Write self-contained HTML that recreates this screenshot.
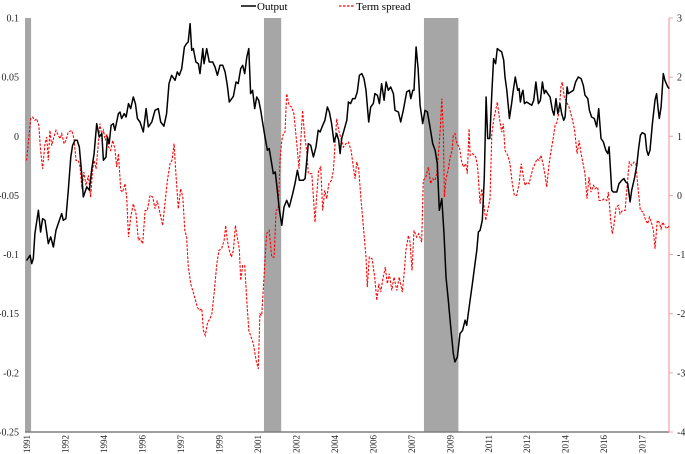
<!DOCTYPE html>
<html><head><meta charset="utf-8"><style>
html,body{margin:0;padding:0;background:#fff;}
svg{display:block;font-family:"Liberation Serif",serif;}
</style></head><body>
<svg id="chart" width="685" height="454" viewBox="0 0 685 454" xmlns="http://www.w3.org/2000/svg"></svg>
<script>
// month index: 0 = Jan 1991
const xTickMonths = [1,20,39,58,77,96,115,134,153,172,191,210,229,248,267,286,305];
const xTickLabels = ["1991","1992","1994","1996","1997","1999","2001","2002","2004","2006","2007","2009","2011","2012","2014","2016","2017"];
const leftTicks = [0.1,0.05,0,-0.05,-0.1,-0.15,-0.2,-0.25];
const leftTickLabels = ["0.1","0.05","0","-0.05","-0.1","-0.15","-0.2","-0.25"];
const rightTicks = [3,2,1,0,-1,-2,-3,-4];
const recessionStarts = [0,118,197];
const recessionEnds = [3,126.5,214];

const outMonths = [0.8,2.5,3.3,4.1,4.9,6.6,7.7,8.7,9.9,11.5,12.7,14,15.3,17,18.1,18.9,20.2,21.4,22.6,23.5,24.7,25.8,26.8,28,28.8,30.5,31.8,32.9,34.1,35.4,36.7,37.9,38.7,40,40.7,41.6,42.5,43.6,44.4,46.1,46.9,47.7,49,49.9,51.1,52.2,53.5,54.5,55.5,56.8,58.4,59.8,60.9,62.6,64.2,65.8,67,68.6,69.9,71.1,72.4,74.1,75.2,76.2,77.4,78.7,79.8,80.6,81.5,82.3,83.1,84.4,85.6,86.4,87.8,88.4,89.7,91,92.7,93.8,95,96.3,97.6,98.8,99.9,100.9,102.1,102.9,104.2,105.3,106.5,107.5,108.5,109.5,110.5,111.4,112.4,113.4,114.4,115.4,116.4,117.4,118.5,119.7,120.6,121.8,122.6,123.6,124.6,125.6,126.8,127.9,129.2,130.5,132.2,133.3,134.5,135.5,137.4,138.3,139.9,141.1,142.4,143.7,144.8,145.7,147,148.1,149.3,150.3,151.4,152.6,153.9,154.9,155.6,156.4,157.5,158.9,159.7,160.8,161.8,163,164.1,165.1,166.3,167.4,168.4,169.7,170.7,172,172.8,174,175,176.1,177.3,178.3,179.4,180.6,181.9,182.7,184.4,185.5,186.8,188.5,189.8,190.5,191.5,192.1,193.1,194.1,195.1,196.4,197.5,198.7,200,201.3,202.5,203.6,204.6,205.8,206.9,207.9,209,210.2,211.5,212.3,213.5,214.8,216.1,217.3,218.1,219.8,220.9,222.2,223.1,223.9,224.7,225.8,226.8,227.7,228.5,229.5,230.5,231.4,232.4,233.2,234.2,235.4,236.4,237,237.9,238.7,239.2,240.3,241.1,242.1,243.3,244,244.6,245.3,245.9,246.6,247.7,248.9,250.2,251.2,252.3,253.5,254.5,255.5,256.4,257.1,258.1,259.3,260.4,261.2,262.2,263.1,264.2,265,266,266.7,267.7,268.3,269.6,270.8,271.9,273.2,274.6,275.7,276.5,277.9,278.7,279.8,281.1,282.3,283.3,284.4,285.6,286.8,287.8,288.4,289.7,290.5,292.2,293.3,294.7,295.8,296.6,297.6,298.8,299.6,300.9,302.1,302.9,303.9,304.8,306.2,307,307.8,308.6,309.8,311.1,311.9,312.7,313.2,314.1,315.2,316,317.4,318.2];
const outValues = [-0.105,-0.1006,-0.1076,-0.1034,-0.0823,-0.0626,-0.0809,-0.0696,-0.071,-0.0907,-0.0851,-0.0936,-0.0795,-0.071,-0.0654,-0.071,-0.0696,-0.0456,-0.0175,-0.0076,-0.0034,-0.0034,-0.009,-0.0316,-0.0513,-0.0428,-0.0456,-0.0287,-0.0146,0.0107,-0.0006,0.0023,-0.0203,-0.0175,-0.0006,-0.0062,0.0093,0.0107,0.0051,0.0192,0.0205,0.015,0.0192,0.0163,0.0276,0.0234,0.0332,0.0276,0.015,0.0121,0.0036,0.0234,0.0079,0.0121,0.022,0.0234,0.0121,0.0085,0.0192,0.0445,0.0516,0.0473,0.0544,0.0516,0.0572,0.0755,0.0784,0.0797,0.0953,0.0727,0.0741,0.0628,0.0614,0.053,0.0741,0.0614,0.0741,0.0628,0.0628,0.0586,0.0516,0.06,0.06,0.0544,0.0431,0.029,0.0319,0.0338,0.0459,0.0445,0.0572,0.06,0.053,0.067,0.0741,0.0361,0.0389,0.0234,0.0332,0.0304,0.022,0.0107,-0.0006,-0.0118,-0.0104,-0.0231,-0.0316,-0.0302,-0.0456,-0.0626,-0.0752,-0.0598,-0.0541,-0.0598,-0.0485,-0.04,-0.0287,-0.0372,-0.0372,-0.0358,-0.0062,-0.0076,-0.0175,-0.009,0.0051,0.0036,0.0093,0.0135,0.0248,0.0205,0.0107,-0.0048,0.0023,-0.0034,-0.0146,-0.0019,0.0051,0.0135,0.029,0.0276,0.0319,0.0319,0.0375,0.0516,0.053,0.0488,0.0389,0.0121,0.0248,0.0276,0.0361,0.0347,0.0276,0.0445,0.0304,0.0459,0.0389,0.0417,0.0361,0.022,0.0205,0.0121,0.022,0.0375,0.0389,0.0319,0.0389,0.0389,0.0755,0.0572,0.0262,0.0107,0.022,0.0205,0.0079,-0.0062,-0.0118,-0.0231,-0.0626,-0.0527,-0.0823,-0.1189,-0.1386,-0.1611,-0.1837,-0.1907,-0.1866,-0.1668,-0.164,-0.1555,-0.1598,-0.1386,-0.1245,-0.1076,-0.0964,-0.0809,-0.0795,-0.071,-0.0344,0.0332,-0.0019,-0.0019,0.0361,0.0657,0.0614,0.0741,0.0727,0.0713,0.0642,0.0501,0.0389,0.0248,0.015,0.0276,0.0389,0.0501,0.0389,0.0403,0.029,0.0361,0.0389,0.0276,0.029,0.0276,0.0262,0.0304,0.0459,0.0276,0.0304,0.0459,0.0361,0.0389,0.0361,0.0332,0.022,0.0178,0.0319,0.0192,0.0276,0.0192,0.0135,0.0163,0.0417,0.0361,0.0375,0.0389,0.0459,0.0501,0.0488,0.0431,0.0347,0.0319,0.022,0.0163,0.015,0.0079,0.0234,-0.0019,-0.0048,-0.0118,-0.0146,-0.009,-0.0456,-0.0471,-0.0471,-0.04,-0.0372,-0.0358,-0.0386,-0.04,-0.0555,-0.0456,-0.0358,-0.0245,-0.0118,0.0008,0.0031,0.0017,-0.0118,-0.0161,-0.0118,0.0107,0.0304,0.0361,0.022,0.015,0.0248,0.053,0.0473,0.0417,0.0403];

const spreadMonths = [0.8,1.6,2.8,3.8,4.9,5.8,6.8,7.7,8.7,9.9,10.7,11.5,12.3,13.2,14,15.3,16.5,17.3,18.1,19.3,20.2,21.4,23.1,24.2,25.2,26.3,27.2,28.1,29.1,30.1,31.3,32.4,33.4,34.1,35.1,36.2,37,37.9,38.7,39.7,40.3,41.3,42.3,43.3,44.4,45.3,46.1,47.3,48.2,49.4,50.2,51.1,52.2,53.5,54.8,56,56.8,58.1,59.3,60.4,61.7,63.1,64.2,65.3,66.7,68,69.1,70.3,71.6,72.6,73.6,74.6,75.7,76.9,77.9,78.9,79.8,80.6,81.8,82.8,84,85.1,86.1,87.3,88.1,89,90.2,91.4,92.3,93.5,94.7,95.8,97.1,98.3,99.1,99.9,100.9,101.9,102.9,103.9,104.8,105.8,106.5,107.5,108.5,109.5,110.5,112.8,114.1,115.2,116,116.9,118,119.3,120.6,121.8,123,124,125.1,125.9,126.8,127.6,128.4,129.2,130.4,131.7,132.8,134.2,135.3,136.3,137.1,138.1,139.1,139.9,141.6,142.4,143.2,144,145,146,147,148,149,150,151.3,152.3,153.1,153.9,154.9,155.9,157.2,158.5,159.7,161,162.1,163,163.8,164.8,165.8,167.1,168.4,169,170,171.4,172.7,173.7,174.7,175.7,176.6,177.9,178.9,179.9,181.1,182.2,183.6,184.8,186.3,187.2,188.1,189.3,190.1,191.1,192.1,193.4,194.4,195.9,196.7,197.9,199.2,200.3,201.3,202.5,203.3,204.3,205,205.8,206.6,207.1,207.9,208.9,209.9,210.9,211.5,212.3,213.2,214.5,215.5,216.5,217.6,218.4,219.3,219.8,220.9,221.9,222.6,223.5,224.7,225.5,226.3,227.5,228.5,229.6,230.5,231.4,232.4,233.2,234.2,235.4,236.2,237,238.4,239.5,240.6,241.6,242.8,244,245,246.1,246.9,248,248.9,249.9,251,251.9,252.8,253.8,254.8,255.8,256.8,257.6,258.8,259.8,260.9,261.7,262.7,263.7,264.7,265.3,266.3,267.5,268.6,270,271.3,272.6,273.6,274.6,275.6,276.5,277.5,278.5,279.5,280.7,281.5,282.8,283.5,284.8,286.1,287.3,288.1,289.2,290,290.9,291.9,293,293.8,295,296.3,297.4,298.4,299.6,300.7,301.6,302.9,303.9,305.3,306.2,307.5,308.3,309.5,310.3,311.1,312.2,313.1,314.1,314.9,315.7,316.9,318.2];
const spreadValues = [0.592,0.874,1.297,1.324,1.268,1.297,1.184,0.761,0.451,0.874,0.986,0.592,1.099,0.845,0.959,1.099,1.015,0.959,1.043,0.874,0.93,1.07,1.099,0.959,0.592,0.592,0.479,0.113,0.394,0.169,0.338,-0.028,0.423,0.592,0.451,0.874,1.212,1.015,1.099,0.93,1.043,0.817,0.761,0.93,0.789,0.479,0.705,0.085,0.056,0.198,-0.028,-0.705,-0.367,-0.141,-0.31,-0.761,-0.733,-0.817,-0.254,-0.254,0,-0.028,-0.225,-0.085,-0.31,-0.507,-0.141,0.254,0.536,0.592,0.874,0.31,-0.225,0.113,-0.028,-0.592,-0.705,-1.184,-1.493,-1.606,-1.747,-1.888,-1.945,-1.916,-2.283,-2.367,-2.142,-2.085,-2,-1.606,-1.155,-0.93,-0.901,-0.761,-0.507,-0.761,-0.93,-1.043,-0.93,-0.507,-0.705,-0.901,-1.437,-1.184,-1.184,-1.775,-2.283,-2.508,-2.79,-2.931,-2,-2.029,-1.381,-0.648,-0.592,-1.043,-1.043,-0.254,-0.225,0.592,0.93,1.043,1.07,1.72,1.522,1.493,1.381,0.874,0.451,0.986,1.437,0.986,0.761,0.367,0.367,-0.028,-0.451,-0.028,0.423,0.479,-0.254,0.085,-0.056,0.198,0.254,0.423,0.874,1.297,1.099,0.986,0.817,0.874,0.902,0.761,0.479,0.282,0.564,0.451,-0.028,-0.536,-1.043,-1.55,-1.043,-1.071,-1.381,-1.775,-1.493,-1.635,-1.437,-1.212,-1.493,-1.324,-1.606,-1.381,-1.606,-1.381,-1.635,-1.324,-0.93,-0.676,-0.789,-1.268,-0.592,-0.705,-0.648,-0.789,0.254,0.31,0.479,0.198,0.282,0.254,0.367,0.761,1.099,1.635,1.043,-0.028,0.282,0.423,0.648,0.761,1.015,1.043,0.874,0.817,0.592,0.479,0.536,0.367,1.128,0.676,0.705,0.676,0.648,0.479,-0.141,0.113,-0.085,-0.423,-0.254,-0.056,1.043,1.268,1.437,1.578,1.324,1.07,1.212,0.761,0.676,0.536,0.198,0,0,0.198,0.536,0.31,0.169,0.225,0.198,0.338,0.479,0.536,0.62,0.592,0.676,0.536,0.338,0.141,0.536,0.761,0.986,1.184,1.24,1.409,1.86,1.916,1.662,1.578,1.493,1.324,1.128,0.705,0.93,0.705,0.536,0.367,-0.056,0.31,0.056,0.169,0.113,0.141,-0.085,-0.085,-0.056,-0.085,0.056,-0.423,-0.648,-0.479,-0.198,-0.169,-0.31,-0.254,-0.254,0.198,0.564,0.507,0.564,0.536,0.056,-0.254,-0.282,-0.395,-0.479,-0.367,-0.479,-0.592,-0.901,-0.423,-0.451,-0.564,-0.451,-0.507,-0.564,-0.507];

const NS = "http://www.w3.org/2000/svg";
const svg = document.getElementById('chart');
const X0 = 25, X1 = 669, M1 = 318, YT = 18, YB = 432;
function xs(m){ return X0 + m * (X1 - X0) / M1; }
function yl(v){ return YT + (0.1 - v) * (YB - YT) / 0.35; }
function yr(v){ return YT + (3 - v) * (YB - YT) / 7; }
function mk(tag, attrs, parent){
  const e = document.createElementNS(NS, tag);
  for (const k in attrs) e.setAttribute(k, attrs[k]);
  (parent || svg).appendChild(e);
  return e;
}

// recession shading
const recG = mk('g', {});


for (let i = 0; i < recessionStarts.length; i++) {
  const r = mk('rect', {x: xs(recessionStarts[i]), y: YT, width: xs(recessionEnds[i]) - xs(recessionStarts[i]), height: YB - YT, fill: '#a6a6a6'}, recG);
  
  
}

// axes
const bx = mk('line', {x1: X0, y1: YB, x2: X1, y2: YB, stroke: '#7f7f7f', 'stroke-width': 1.5});


const ra = mk('line', {x1: X1, y1: YT, x2: X1, y2: YB, stroke: '#f4a0a0', 'stroke-width': 1.2});



leftTicks.forEach((v, i) => {
  const t = mk('text', {x: 19, y: yl(v) + 3.5, 'text-anchor': 'end', 'font-size': 10, fill: '#222'});
  t.textContent = leftTickLabels[i];
  
  
});
rightTicks.forEach(v => {
  const l = mk('line', {x1: X1, y1: yr(v), x2: X1 + 4, y2: yr(v), stroke: '#f4a0a0', 'stroke-width': 1});
  
  
  const t = mk('text', {x: 677, y: yr(v) + 3.5, 'text-anchor': 'start', 'font-size': 10, fill: '#222'});
  t.textContent = String(v);
  
  
});
xTickMonths.forEach((m, i) => {
  const x = xs(m);
  const t = mk('text', {x: 0, y: 0, 'text-anchor': 'end', 'font-size': 9, fill: '#222', transform: 'translate(' + (x + 3) + ',435) rotate(-90)'});
  t.textContent = xTickLabels[i];
  
  
});

// series
function path(ms, vs, yf){
  return ms.map((m, i) => (i ? 'L' : 'M') + xs(m).toFixed(1) + ',' + yf(vs[i]).toFixed(1)).join('');
}
const sp = mk('path', {d: path(spreadMonths, spreadValues, yr), fill: 'none', stroke: '#ff0000', 'stroke-width': 1.1, 'stroke-dasharray': '2.5,1.5'});


const op = mk('path', {d: path(outMonths, outValues, yl), fill: 'none', stroke: '#000', 'stroke-width': 1.5, 'stroke-linejoin': 'round'});



// legend
const lg = mk('g', {});


const l1 = mk('line', {x1: 241, y1: 6, x2: 256, y2: 6, stroke: '#000', 'stroke-width': 1.5}, lg);


const t1 = mk('text', {x: 257, y: 10, 'font-size': 11, fill: '#000'}, lg);
t1.textContent = 'Output';


const l2 = mk('line', {x1: 339, y1: 6, x2: 354, y2: 6, stroke: '#ff0000', 'stroke-width': 1.2, 'stroke-dasharray': '2.5,1.5'}, lg);


const t2 = mk('text', {x: 356, y: 10, 'font-size': 11, fill: '#000'}, lg);
t2.textContent = 'Term spread';


</script>
</body></html>
